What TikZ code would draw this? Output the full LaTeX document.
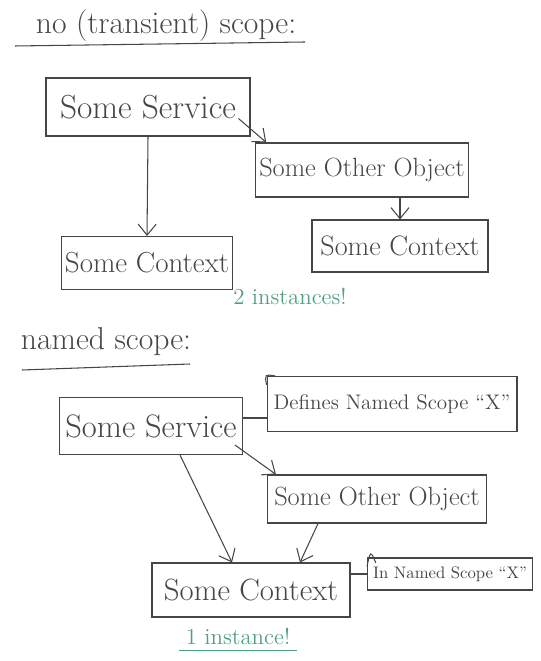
\documentclass[tikz,border=0pt]{standalone}
\usepackage{tikz}
\usetikzlibrary{arrows.meta}
\definecolor{pen}{RGB}{70,70,70}
\definecolor{greenpen}{RGB}{80,160,125}

\begin{document}
\begin{tikzpicture}[x=0.02cm,y=-0.02cm,line width=0.6pt,
  >={Straight Barb[length=2.2mm,width=3.6mm]},
  box/.style={draw=pen,text=pen,inner sep=2pt,font=\fontsize{15}{17}\selectfont},
  notebox/.style={draw=pen,text=pen,inner sep=2pt,font=\fontsize{12}{14}\selectfont},
  heading/.style={text=pen,font=\fontsize{18}{20}\selectfont},
  remark/.style={text=greenpen,font=\fontsize{13}{15}\selectfont}]
  \useasboundingbox (0,0) rectangle (540,661);
  % no (transient) scope
  \node[heading] (t1) at (166,26) {no (transient) scope:};
  \draw[pen] (15,46) -- (305,42);
  \node[box,font=\fontsize{19}{21}\selectfont,minimum width=4.08cm,minimum height=1.16cm] (ss1) at (148,107) {Some Service};
  \node[box,minimum width=4.2cm,minimum height=1.08cm] (soo1) at (362,170) {Some Other Object};
  \node[box,font=\fontsize{16.5}{18}\selectfont,minimum width=3.42cm,minimum height=1.06cm] (sc1a) at (147,263) {Some Context};
  \node[box,font=\fontsize{16}{18}\selectfont,minimum width=3.52cm,minimum height=1.04cm] (sc1b) at (400,246) {Some Context};
  \node[remark] (n2) at (290,296) {2 instances!};
  \draw[->,pen] (ss1.south) -- (sc1a.north);
  \draw[->,pen] ([xshift=-0.24cm,yshift=0.36cm]ss1.south east) -- ([xshift=0.22cm]soo1.north west);
  \draw[->,pen] (soo1.south -| sc1b.north) -- (sc1b.north);
  % named scope
  \node[heading] (t2) at (106,342) {named scope:};
  \draw[pen] (22,370) -- (190,364);
  \node[box,font=\fontsize{18.5}{20}\selectfont,minimum width=3.66cm,minimum height=1.14cm] (ss2) at (151,426) {Some Service};
  \node[notebox,minimum width=5.0cm,minimum height=1.1cm] (def) at (392,404) {Defines Named Scope ``X''};
  \draw[pen] ([yshift=-5pt]def.north west) .. controls ([xshift=-1pt,yshift=1pt]def.north west) .. ([xshift=5pt]def.north west);
  \node[box,minimum width=4.38cm,minimum height=0.96cm] (soo2) at (377,499) {Some Other Object};
  \node[box,font=\fontsize{17.5}{19}\selectfont,minimum width=3.96cm,minimum height=1.08cm] (sc2) at (251,590) {Some Context};
  \node[notebox,font=\fontsize{9.5}{11}\selectfont,minimum width=3.3cm,minimum height=0.64cm] (in) at (450,574) {In Named Scope ``X''};
  \draw[pen] ([yshift=-5pt]in.north west) .. controls ([xshift=2pt,yshift=4pt]in.north west) .. ([xshift=5pt,yshift=-3pt]in.north west);
  \node[remark] (n1) at (238,636) {1 instance!};
  \draw[greenpen] (n1.south west) -- (n1.south east);
  \draw[pen] ([yshift=0.16cm]ss2.east) -- ([yshift=0.16cm]ss2.east -| def.west);
  \draw[->,pen] ([xshift=-0.16cm,yshift=0.2cm]ss2.south east) -- ([xshift=0.18cm]soo2.north west);
  \draw[->,pen] ([xshift=0.58cm]ss2.south) -- ([xshift=-0.38cm]sc2.north);
  \draw[->,pen] ([xshift=-1.18cm]soo2.south) -- ([xshift=0.98cm]sc2.north);
  \draw[pen] (sc2.east |- in.west) -- (in.west);
\end{tikzpicture}
\end{document}
